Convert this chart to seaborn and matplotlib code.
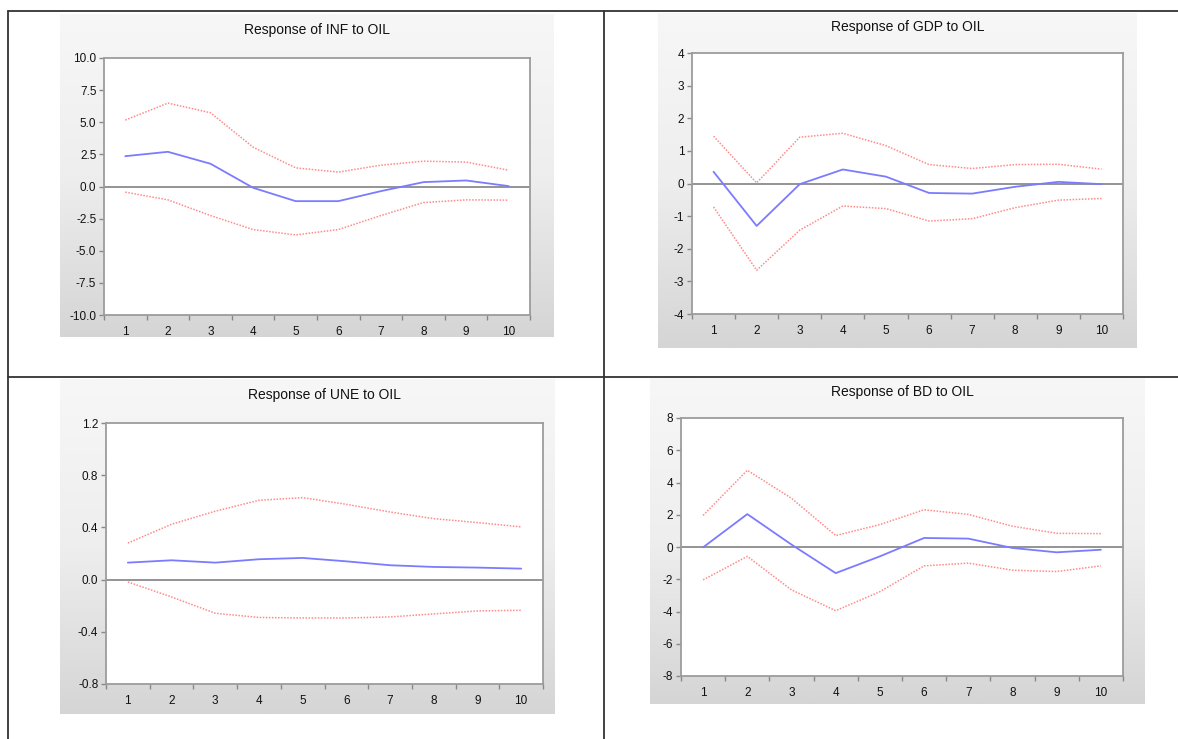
import numpy as np
import pandas as pd
import matplotlib
matplotlib.use("Agg")
import matplotlib.pyplot as plt
from matplotlib.lines import Line2D
from matplotlib.ticker import FixedLocator, FormatStrFormatter
import seaborn as sns

sns.set_style("white")
plt.rcParams['font.family'] = ['Liberation Sans', 'DejaVu Sans']

# ---------------- data ----------------
periods = [1, 2, 3, 4, 5, 6, 7, 8, 9, 10]

titles = ["Response of INF to OIL", "Response of GDP to OIL",
          "Response of UNE to OIL", "Response of BD to OIL"]

inf_resp = [2.36, 2.70, 1.77, -0.10, -1.14, -1.14, -0.36, 0.34, 0.47, 0.03]
inf_up = [5.17, 6.49, 5.74, 3.06, 1.45, 1.12, 1.66, 1.97, 1.90, 1.27]
inf_lo = [-0.44, -1.04, -2.26, -3.35, -3.77, -3.35, -2.26, -1.25, -1.04, -1.06]

gdp_resp = [0.36, -1.30, -0.02, 0.43, 0.21, -0.29, -0.31, -0.10, 0.05, -0.02]
gdp_up = [1.45, 0.02, 1.42, 1.54, 1.16, 0.58, 0.46, 0.58, 0.59, 0.44]
gdp_lo = [-0.72, -2.66, -1.43, -0.69, -0.77, -1.15, -1.08, -0.74, -0.51, -0.46]

une_resp = [0.130, 0.148, 0.130, 0.156, 0.166, 0.140, 0.110, 0.097, 0.092, 0.084]
une_up = [0.280, 0.424, 0.524, 0.608, 0.628, 0.577, 0.518, 0.467, 0.437, 0.404]
une_lo = [-0.018, -0.133, -0.258, -0.290, -0.294, -0.294, -0.286, -0.263, -0.240, -0.235]

bd_resp = [-0.02, 2.04, 0.15, -1.62, -0.58, 0.56, 0.52, -0.06, -0.33, -0.17]
bd_up = [1.96, 4.76, 3.02, 0.71, 1.39, 2.31, 2.02, 1.29, 0.85, 0.83]
bd_lo = [-2.04, -0.58, -2.66, -3.95, -2.77, -1.17, -1.00, -1.44, -1.52, -1.17]

inf_ticks = [-10.0, -7.5, -5.0, -2.5, 0.0, 2.5, 5.0, 7.5, 10.0]
gdp_ticks = [-4, -3, -2, -1, 0, 1, 2, 3, 4]
une_ticks = [-0.8, -0.4, 0.0, 0.4, 0.8, 1.2]
bd_ticks = [-8, -6, -4, -2, 0, 2, 4, 6, 8]

W, H = 1178, 739
fig = plt.figure(figsize=(W / 100, H / 100), dpi=100)
fig.patch.set_facecolor("white")


def fr(x0, y0, x1, y1):
    return [x0 / W, 1 - y1 / H, (x1 - x0) / W, (y1 - y0) / H]


panels = [
    dict(bg=(60, 14, 554, 337), plot=(104, 58, 530, 315), title_y=30,
         resp=inf_resp, up=inf_up, lo=inf_lo, ticks=inf_ticks, fmt="%.1f"),
    dict(bg=(658, 13, 1137, 348), plot=(692, 53, 1123, 314), title_y=27,
         resp=gdp_resp, up=gdp_up, lo=gdp_lo, ticks=gdp_ticks, fmt="%d"),
    dict(bg=(60, 379, 555, 714), plot=(106, 423, 543, 684), title_y=395,
         resp=une_resp, up=une_up, lo=une_lo, ticks=une_ticks, fmt="%.1f"),
    dict(bg=(650, 378, 1145, 704), plot=(681, 418, 1123, 676), title_y=392,
         resp=bd_resp, up=bd_up, lo=bd_lo, ticks=bd_ticks, fmt="%d"),
]

grad = np.linspace(0, 1, 256).reshape(-1, 1)
cmap = matplotlib.colors.LinearSegmentedColormap.from_list(
    "g", ["#f7f7f7", "#eeeeee", "#d5d5d5"])

for i, p in enumerate(panels):
    bg = fig.add_axes(fr(*p["bg"]))
    bg.imshow(grad, aspect="auto", cmap=cmap, extent=[0, 1, 0, 1], origin="upper")
    bg.set_axis_off()
    bg.set_zorder(0)

    ax = fig.add_axes(fr(*p["plot"]))
    ax.set_zorder(1)
    ax.set_facecolor("white")
    df = pd.DataFrame({"period": periods, "resp": p["resp"],
                       "up": p["up"], "lo": p["lo"]})
    ax.axhline(0, color="#777777", lw=1.1, zorder=1)
    sns.lineplot(data=df, x="period", y="up", ax=ax, color="#ff8a8a",
                 lw=1.1, linestyle=(0, (1, 1)), zorder=2)
    sns.lineplot(data=df, x="period", y="lo", ax=ax, color="#ff8a8a",
                 lw=1.1, linestyle=(0, (1, 1)), zorder=2)
    sns.lineplot(data=df, x="period", y="resp", ax=ax, color="#7b7bff",
                 lw=1.3, zorder=3)
    ax.set_xlim(0.5, 10.5)
    ax.set_ylim(p["ticks"][0], p["ticks"][-1])
    ax.set_xlabel("")
    ax.set_ylabel("")
    ax.xaxis.set_major_locator(FixedLocator(periods))
    ax.xaxis.set_minor_locator(FixedLocator([x + 0.5 for x in range(0, 11)]))
    ax.set_xticklabels([str(x) for x in periods])
    ax.yaxis.set_major_locator(FixedLocator(p["ticks"]))
    ax.yaxis.set_major_formatter(FormatStrFormatter(p["fmt"]))
    ax.tick_params(axis="x", which="major", length=0, pad=8,
                   labelsize=8.5, labelcolor="#111111")
    ax.tick_params(axis="x", which="minor", length=3.5, width=1,
                   color="#888888", direction="out", bottom=True)
    ax.tick_params(axis="y", which="major", length=3.5, width=1,
                   color="#888888", direction="out", left=True, pad=2,
                   labelsize=8.5, labelcolor="#111111")
    for s in ax.spines.values():
        s.set_color("#9c9c9c")
        s.set_linewidth(1.3)
        s.set_visible(True)

    bx0, by0, bx1, by1 = p["plot"]
    fig.text(((bx0 + bx1) / 2) / W, 1 - p["title_y"] / H, titles[i],
             ha="center", va="center", fontsize=10, color="#111111")

# table borders
lc = "#333333"
lw = 1.3
def hline(y, x0, x1):
    fig.add_artist(Line2D([x0 / W, x1 / W], [1 - y / H, 1 - y / H],
                          color=lc, lw=lw, transform=fig.transFigure))
def vline(x, y0, y1):
    fig.add_artist(Line2D([x / W, x / W], [1 - y0 / H, 1 - y1 / H],
                          color=lc, lw=lw, transform=fig.transFigure))

hline(11, 8, 1178)
hline(377, 8, 1178)
vline(8, 11, 739)
vline(604, 11, 739)

fig.savefig("out.png", dpi=100)
